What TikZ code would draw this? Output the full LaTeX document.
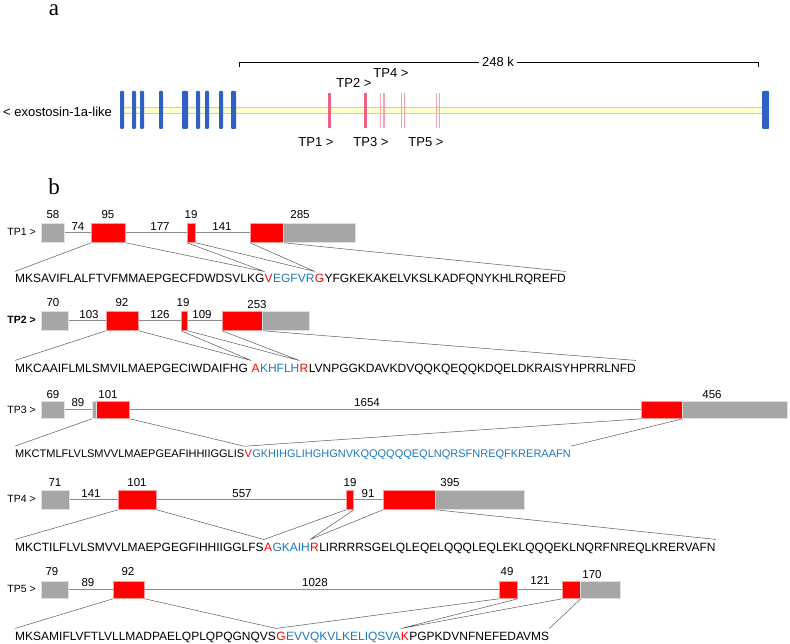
\documentclass[tikz,border=0pt]{standalone}
\usepackage{fontspec}
\setmainfont{Liberation Sans}
\newfontfamily\panelfont{Liberation Serif}
\usetikzlibrary{calc}
\definecolor{barblue}{RGB}{49,96,196}
\definecolor{tpink}{RGB}{240,96,128}
\definecolor{lpink}{RGB}{246,160,180}
\definecolor{bandfill}{RGB}{255,255,204}
\definecolor{banddraw}{RGB}{214,206,150}
\definecolor{exred}{RGB}{255,0,0}
\definecolor{utrgray}{RGB}{166,166,166}
\definecolor{seqblue}{RGB}{30,120,190}
\newcommand\gbox[6]{\node[#1, minimum width={#4-#3}, minimum height={#6-#5}] (#2) at (#3,#5) {};}
\begin{document}
\begin{tikzpicture}[x=1pt,y=-1pt,
  exon/.style={draw=exred!40, fill=exred, line width=0.8pt, inner sep=0, anchor=north west},
  utr/.style={draw=black!12, fill=utrgray, line width=0.8pt, inner sep=0, anchor=north west},
  intron/.style={draw=black!45, line width=0.9pt},
  link/.style={draw=black!65, line width=0.5pt},
  num/.style={font=\fontsize{11.5}{12}\selectfont, inner sep=0},
  tplab/.style={font=\fontsize{10.5}{12}\selectfont, inner sep=0, anchor=east},
  alab/.style={font=\fontsize{13}{14}\selectfont, inner sep=0},
  seq/.style={font=\fontsize{12}{14}\selectfont, inner sep=0, anchor=base west},
  seqs/.style={font=\fontsize{11}{13}\selectfont, inner sep=0, anchor=base west},
  panel/.style={font=\panelfont\fontsize{23}{23}\selectfont, inner sep=0},
  bbar/.style={fill=barblue, rounded corners=1pt},
]
\useasboundingbox (0,0) rectangle (790,644);

% ---------------- panel a ----------------
\node[panel, anchor=base] (pa) at (54,16) {a};
\draw[line width=0.8pt] (239,67) -- (239,62) -- (758,62) -- (758,67);
\node[alab, fill=white, inner xsep=3pt, inner ysep=1pt] (len) at (498,62) {248 k};
\draw[fill=bandfill, draw=banddraw, line width=0.6pt] (120,107) rectangle (766,113);
\foreach \xa/\xb in {120/124,132/136,140/144,159/163,182/188,196/200,205/209,219/223,231/236,762/769}
  \fill[bbar] (\xa,91) rectangle (\xb,129);
\fill[tpink] (328,93) rectangle (331,128);
\fill[tpink] (364,93) rectangle (367,128);
\foreach \xx in {380.5,384,401.5,404.2,436.8,439.4}
  \draw[lpink, line width=1.2pt] (\xx,93) -- (\xx,128);
\node[alab, anchor=west] (exo) at (3,112) {< exostosin-1a-like};
\node[alab] (a1) at (316,142) {TP1 >};
\node[alab] (a3) at (371,142) {TP3 >};
\node[alab] (a5) at (426,142) {TP5 >};
\node[alab] (a2) at (354,83) {TP2 >};
\node[alab] (a4) at (391,73) {TP4 >};

% ---------------- panel b ----------------
\node[panel, anchor=base] (pb) at (54,195) {b};

% TP1
\node[tplab] (l1) at (36,232) {TP1 >};
\gbox{exon}{t1b}{91}{125}{223}{242}
\gbox{exon}{t1c}{187}{195}{223}{242}
\gbox{exon}{t1d}{250}{283}{223}{242}
\gbox{utr}{t1a}{41}{64}{223}{242}
\gbox{utr}{t1e}{283}{355}{223}{242}
\draw[intron] (t1a.east) -- (t1b.west) (t1b.east) -- (t1c.west) (t1c.east) -- (t1d.west);
\node[num] at (53,215) {58};
\node[num] at (78,227) {74};
\node[num] at (108,215) {95};
\node[num] at (160,227) {177};
\node[num] at (191,215) {19};
\node[num] at (222,227) {141};
\node[num] at (300,215) {285};
\node[seq] (s1a) at (15,283) {MKSAVIFLALFTVFMMAEPGECFDWDSVLKG};
\node[seq, text=exred] (s1b) at (s1a.base east) {V};
\node[seq, text=seqblue] (s1c) at (s1b.base east) {EGFVR};
\node[seq, text=exred] (s1d) at (s1c.base east) {G};
\node[seq] (s1e) at (s1d.base east) {YFGKEKAKELVKSLKADFQNYKHLRQREFD};
\coordinate (b1) at ($(s1a.north west)+(0,-3)$);
\coordinate (j11) at ($(s1b.north west)+(0,-3)$);
\coordinate (j12) at ($(s1d.north west)+(0,-3)$);
\coordinate (e1) at ($(s1e.north east)+(0,-3)$);
\draw[link] (t1b.south west) -- (b1) (t1b.south east) -- (j11) (t1c.south west) -- (j11)
  (t1c.south east) -- (j12) (t1d.south west) -- (j12) (t1d.south east) -- (e1);

% TP2
\node[tplab, font=\fontsize{10.5}{12}\selectfont\bfseries] (l2) at (36,320) {TP2 >};
\gbox{exon}{t2b}{106}{138}{311}{330}
\gbox{exon}{t2c}{181}{187}{311}{330}
\gbox{exon}{t2d}{222}{262}{311}{330}
\gbox{utr}{t2a}{41}{68}{311}{330}
\gbox{utr}{t2e}{262}{309}{311}{330}
\draw[intron] (t2a.east) -- (t2b.west) (t2b.east) -- (t2c.west) (t2c.east) -- (t2d.west);
\node[num] at (53,303) {70};
\node[num] at (89,315) {103};
\node[num] at (122,303) {92};
\node[num] at (160,315) {126};
\node[num] at (183,303) {19};
\node[num] at (202,315) {109};
\node[num] at (257,305) {253};
\node[seq] (s2a) at (15,372) {MKCAAIFLMLSMVILMAEPGECIWDAIFHG};
\node[seq, text=exred] (s2b) at ($(s2a.base east)+(3.3,0)$) {A};
\node[seq, text=seqblue] (s2c) at (s2b.base east) {KHFLH};
\node[seq, text=exred] (s2d) at (s2c.base east) {R};
\node[seq] (s2e) at (s2d.base east) {LVNPGGKDAVKDVQQKQEQQKDQELDKRAISYHPRRLNFD};
\coordinate (b2) at ($(s2a.north west)+(0,-3)$);
\coordinate (j21) at ($(s2b.north west)+(0,-3)$);
\coordinate (j22) at ($(s2d.north west)+(0,-3)$);
\coordinate (e2) at ($(s2e.north east)+(0,-3)$);
\draw[link] (t2b.south west) -- (b2) (t2b.south east) -- (j21) (t2c.south west) -- (j21)
  (t2c.south east) -- (j22) (t2d.south west) -- (j22) (t2d.south east) -- (e2);

% TP3
\node[tplab] (l3) at (36,410) {TP3 >};
\gbox{exon}{t3c}{96}{129}{401}{418}
\gbox{exon}{t3d}{641}{682}{401}{418}
\gbox{utr}{t3a}{41}{64}{401}{418}
\gbox{utr}{t3b}{92}{96}{401}{418}
\gbox{utr}{t3e}{682}{787}{401}{418}
\draw[intron] (t3a.east) -- (t3b.west) (t3c.east) -- (t3d.west);
\node[num] at (53,395) {69};
\node[num] at (78,403) {89};
\node[num] at (108,395) {101};
\node[num] at (367,403) {1654};
\node[num] at (712,395) {456};
\node[seqs] (s3a) at (15,457) {MKCTMLFLVLSMVVLMAEPGEAFIHHIIGGLIS};
\node[seqs, text=exred] (s3b) at (s3a.base east) {V};
\node[seqs, text=seqblue] (s3c) at (s3b.base east) {GKHIHGLIHGHGNVKQQQQQQEQLNQRSFNREQFKRERAAFN};
\coordinate (b3) at ($(s3a.north west)+(0,-3)$);
\coordinate (j31) at ($(s3b.north west)+(0,-3)$);
\coordinate (e3) at ($(s3c.north east)+(0,-3)$);
\draw[link] (t3b.south west) -- (b3) (t3c.south east) -- (j31) (t3d.south west) -- (j31)
  (t3d.south east) -- (e3);

% TP4
\node[tplab] (l4) at (36,499) {TP4 >};
\gbox{exon}{t4b}{118}{156}{490}{509}
\gbox{exon}{t4c}{346}{353}{490}{509}
\gbox{exon}{t4d}{383}{435}{490}{509}
\gbox{utr}{t4a}{41}{69}{490}{509}
\gbox{utr}{t4e}{435}{524}{490}{509}
\draw[intron] (t4a.east) -- (t4b.west) (t4b.east) -- (t4c.west) (t4c.east) -- (t4d.west);
\node[num] at (55,483) {71};
\node[num] at (91,494) {141};
\node[num] at (137,483) {101};
\node[num] at (242,494) {557};
\node[num] at (350,483) {19};
\node[num] at (368,494) {91};
\node[num] at (450,483) {395};
\node[seq] (s4a) at (15,551) {MKCTILFLVLSMVVLMAEPGEGFIHHIIGGLFS};
\node[seq, text=exred] (s4b) at (s4a.base east) {A};
\node[seq, text=seqblue] (s4c) at (s4b.base east) {GKAIH};
\node[seq, text=exred] (s4d) at (s4c.base east) {R};
\node[seq] (s4e) at (s4d.base east) {LIRRRRSGELQLEQELQQQLEQLEKLQQQEKLNQRFNREQLKRERVAFN};
\coordinate (b4) at ($(s4a.north west)+(0,-3)$);
\coordinate (j41) at ($(s4b.north west)+(0,-3)$);
\coordinate (j42) at ($(s4d.north west)+(0,-3)$);
\coordinate (e4) at ($(s4e.north east)+(0,-3)$);
\draw[link] (t4b.south west) -- (b4) (t4b.south east) -- (j41) (t4c.south west) -- (j41)
  (t4c.south east) -- (j42) (t4d.south west) -- (j42) (t4d.south east) -- (e4);

% TP5
\node[tplab] (l5) at (36,589) {TP5 >};
\gbox{exon}{t5b}{113}{144}{581}{598}
\gbox{exon}{t5c}{499}{517}{581}{598}
\gbox{exon}{t5d}{562}{580}{581}{598}
\gbox{utr}{t5a}{41}{68}{581}{598}
\gbox{utr}{t5e}{580}{620}{581}{598}
\draw[intron] (t5a.east) -- (t5b.west) (t5b.east) -- (t5c.west) (t5c.east) -- (t5d.west);
\node[num] at (52,572) {79};
\node[num] at (88,583) {89};
\node[num] at (128,572) {92};
\node[num] at (315,583) {1028};
\node[num] at (507,572) {49};
\node[num] at (540,580) {121};
\node[num] at (592,575) {170};
\node[seq] (s5a) at (15,640) {MKSAMIFLVFTLVLLMADPAELQPLQPQGNQVS};
\node[seq, text=exred] (s5b) at (s5a.base east) {G};
\node[seq, text=seqblue] (s5c) at (s5b.base east) {EVVQKVLKELIQSVA};
\node[seq, text=exred] (s5d) at (s5c.base east) {K};
\node[seq] (s5e) at (s5d.base east) {PGPKDVNFNEFEDAVMS};
\coordinate (b5) at ($(s5a.north west)+(0,-3)$);
\coordinate (j51) at ($(s5b.north west)+(0,-3)$);
\coordinate (j52) at ($(s5d.north west)+(0,-3)$);
\coordinate (e5) at ($(s5e.north east)+(0,-3)$);
\draw[link] (t5b.south west) -- (b5) (t5b.south east) -- (j51) (t5c.south west) -- (j51)
  (t5c.south east) -- (j52) (t5d.south west) -- (j52) (t5d.south east) -- (e5);
\end{tikzpicture}
\end{document}
